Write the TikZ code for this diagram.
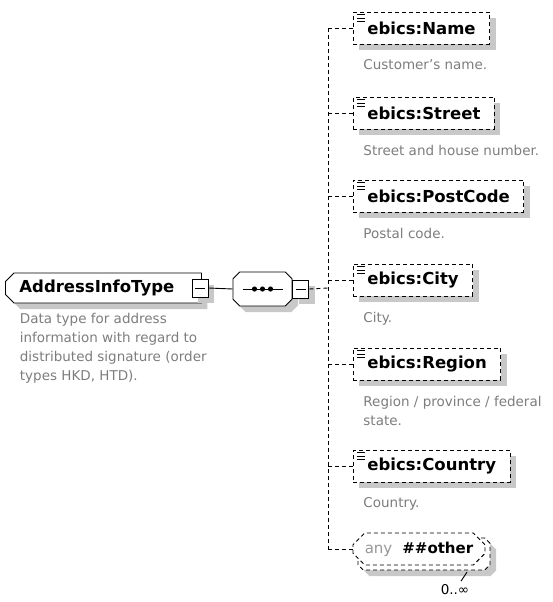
\documentclass[tikz,border=0pt]{standalone}
\usepackage{fontspec}
\setmainfont{DejaVu Sans}
\usepackage{tikz}
\usetikzlibrary{positioning,shapes.misc,shadows,calc}
\definecolor{shade}{RGB}{200,200,200}
\definecolor{note}{RGB}{125,125,125}

\begin{document}
\begin{tikzpicture}[x=1pt, y=-1pt, line width=0.9pt,
  shadowed/.style={drop shadow={shadow xshift=6pt, shadow yshift=-6pt,
                   fill=shade, opacity=1}},
  ctype/.style={chamfered rectangle, chamfered rectangle corners={north west,south west},
                chamfered rectangle xsep=5pt, draw, fill=white, shadowed,
                anchor=west, text width=168pt, align=left, inner xsep=9pt,
                minimum height=30pt, font=\bfseries\fontsize{16.5}{20}\selectfont},
  minus/.style={rectangle, draw, fill=white, shadowed, minimum width=16pt,
                minimum height=18pt, inner sep=0pt,
                path picture={\draw ([xshift=3pt]path picture bounding box.west)
                  -- ([xshift=-3pt]path picture bounding box.east);}},
  seqbox/.style={chamfered rectangle, chamfered rectangle xsep=10pt, draw,
                 fill=white, shadowed, minimum width=59pt, minimum height=34pt},
  elem/.style={rectangle, draw, dash pattern=on 4pt off 3pt, fill=white, shadowed,
               anchor=west, inner xsep=14pt, minimum height=32pt,
               font=\bfseries\fontsize{16.5}{20}\selectfont},
  wild/.style={chamfered rectangle, chamfered rectangle xsep=8pt, draw,
               dash pattern=on 4pt off 3pt, fill=white, minimum width=132pt,
               minimum height=32pt, inner xsep=2pt,
               font=\bfseries\fontsize{15}{18}\selectfont},
  desc/.style={font=\fontsize{13.5}{19}\selectfont, text=note, align=left,
               inner sep=0pt},
  conn/.style={dash pattern=on 4pt off 3pt},
]
  \useasboundingbox (0,0) rectangle (552,602);

  % type and sequence
  \node[ctype] (addrtype) at (5,288) {AddressInfoType};
  \node[minus] (addrminus) at (200,288) {};
  \node[seqbox] (seq) at (262.5,289) {};
  \draw (seq.center) ++(-20,0) -- ++(40,0);
  \foreach \dx in {-8,0,8}
    \fill (seq.center) ++(\dx,0) circle (2.6);
  \node[minus, anchor=west] (seqminus) at (seq.east) {};
  \draw (addrminus.east) -- (seq.west);
  \node[desc, below right=14pt and 10pt of addrtype.south west] (addrnote)
    {Data type for address\\information with regard to\\distributed signature (order\\types HKD, HTD).};

  % children
  \coordinate (spine) at (328,288);
  \node[elem] (name) at (353,28) {ebics:Name};
  \node[elem] (street) at (353,113) {ebics:Street};
  \node[elem] (postcode) at (353,196) {ebics:PostCode};
  \node[elem] (city) at (353,280) {ebics:City};
  \node[elem] (region) at (353,364) {ebics:Region};
  \node[elem] (country) at (353,466) {ebics:Country};
  \node[wild, shadowed] (anyback) at (424,554) {};
  \node[wild] (anyother) at (419,549) {\textcolor{note!80}{\mdseries any}\hspace{10pt}\#\#other};
  \node[font=\fontsize{13.5}{16}\selectfont] (anymult) at (455,590) {0..∞};
  \draw ([xshift=6pt]anymult.north) -- ++(6,-9);

  \foreach \n in {name,street,postcode,city,region,country}
    \foreach \d in {3,6.5,10}
      \draw[line width=0.8pt] ([shift={(4,\d)}]\n.north west) -- ++(8,0);

  \node[desc, below right=15pt and 10pt of name.south west] {Customer's name.};
  \node[desc, below right=15pt and 10pt of street.south west] {Street and house number.};
  \node[desc, below right=15pt and 10pt of postcode.south west] {Postal code.};
  \node[desc, below right=15pt and 10pt of city.south west] {City.};
  \node[desc, below right=15pt and 10pt of region.south west] {Region / province / federal\\state.};
  \node[desc, below right=15pt and 10pt of country.south west] {Country.};

  % connectors
  \draw[conn] (seqminus.east) -- (spine);
  \draw[conn] (spine |- name.west) -- (spine |- anyother.west);
  \foreach \n in {name,street,postcode,city,region,country,anyother}
    \draw[conn] (spine |- \n.west) -- (\n.west);
\end{tikzpicture}
\end{document}
